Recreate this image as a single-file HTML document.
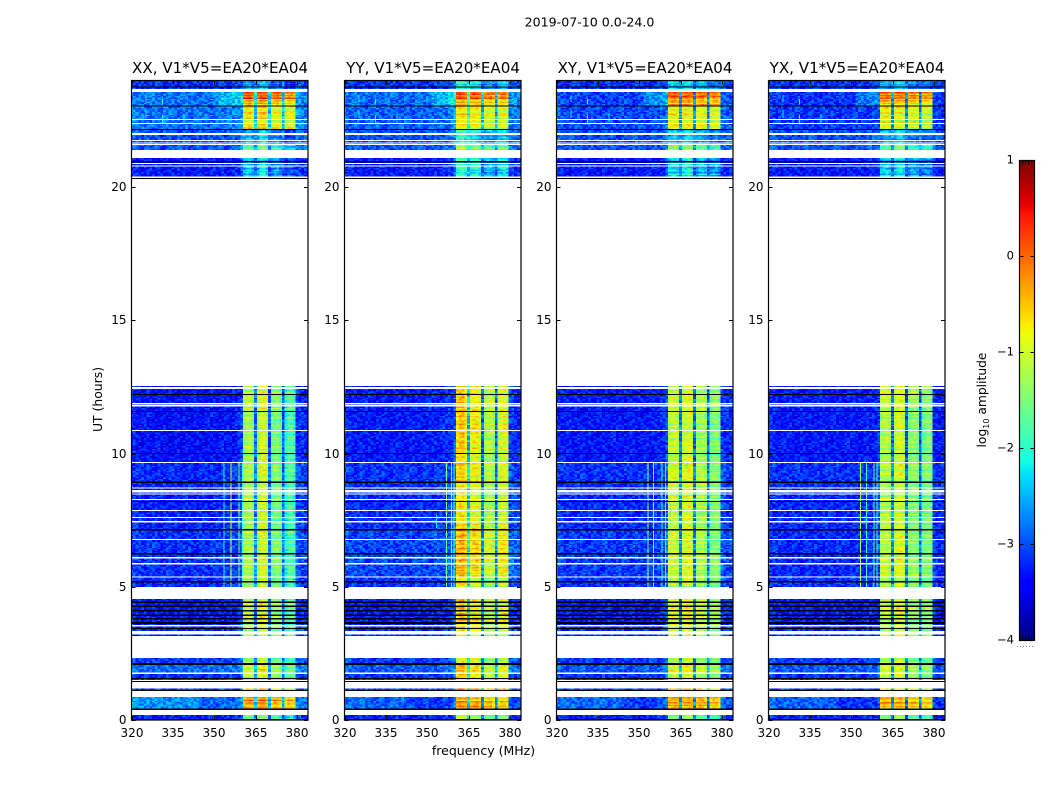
<!DOCTYPE html>
<html lang="en">
<head>
<meta charset="utf-8">
<title>2019-07-10 0.0-24.0</title>
<style>
html,body{margin:0;padding:0;background:#fff;width:1050px;height:800px;overflow:hidden}
svg{display:block}
text{font-family:"DejaVu Sans","Liberation Sans",sans-serif;fill:#000}
</style>
</head>
<body>
<svg id="chart" xmlns="http://www.w3.org/2000/svg" width="1050" height="800" viewBox="0 0 1050 800">
  <text x="589.5" y="26.5" font-size="12.6" text-anchor="middle">2019-07-10 0.0-24.0</text>
  <text x="483.5" y="755" font-size="12.5" text-anchor="middle">frequency (MHz)</text>
  <text x="102" y="399.5" font-size="12.4" text-anchor="middle" transform="rotate(-90 102 399.5)">UT (hours)</text>
  <text x="986" y="400" font-size="12.3" text-anchor="middle" transform="rotate(-90 986 400)">log<tspan font-size="8" dy="3">10</tspan><tspan dy="-3"> amplitude</tspan></text>
  <g id="panels"></g>
  <g id="colorbar"></g>
</svg>
<script>
const panelTitles = ["XX, V1*V5=EA20*EA04","YY, V1*V5=EA20*EA04","XY, V1*V5=EA20*EA04","YX, V1*V5=EA20*EA04"];
const freqTicks = [320,335,350,365,380];
const hourTicks = [0,5,10,15,20];
const colorbarTicks = [1,0,-1,-2,-3,-4];
const channelsMHz = [320,321,322,323,324,325,326,327,328,329,330,331,332,333,334,335,336,337,338,339,340,341,342,343,344,345,346,347,348,349,350,351,352,353,354,355,356,357,358,359,360,361,362,363,364,365,366,367,368,369,370,371,372,373,374,375,376,377,378,379,380,381,382,383,384];
const bandChannelsMHz = [361,362,363,364,366,367,368,369,371,372,373,374,376,377,378,379];

const spectrumXX = [-3.05,-3.1,-3.15,-3.15,-3.2,-3.2,-3.15,-3.2,-3.2,-3.2,-3.2,-3.25,-3.2,-3.2,-3.2,-3.2,-3.2,-3.2,-3.25,-3.2,-3.2,-3.2,-3.25,-3.2,-3.2,-3.2,-3.2,-3.2,-3.2,-3.2,-3.15,-3.2,-3.2,-3.15,-3.2,-3.15,-3.15,-3.15,-3.1,-3.05,-2.9,-1.3,-1.2,-1.15,-1.4,-2.7,-1.3,-0.95,-0.9,-1.1,-2.8,-1.6,-1.45,-1.4,-1.6,-2.8,-2.0,-1.75,-1.7,-1.9,-3.0,-3.0,-3.05,-3.1,-3.1];
const spectrumYY = [-3.05,-3.1,-3.15,-3.15,-3.2,-3.2,-3.15,-3.2,-3.2,-3.2,-3.2,-3.2,-3.2,-3.2,-3.2,-3.2,-3.2,-3.2,-3.2,-3.2,-3.2,-3.2,-3.2,-3.2,-3.2,-3.2,-3.15,-3.2,-3.2,-3.2,-3.15,-3.15,-3.2,-3.15,-3.15,-3.15,-3.1,-3.1,-3.05,-3.0,-2.8,-0.75,-0.6,-0.6,-0.9,-2.3,-1.0,-0.85,-0.85,-1.1,-2.8,-1.4,-1.25,-1.2,-1.4,-2.8,-1.2,-1.0,-1.0,-1.15,-3.0,-3.0,-3.05,-3.1,-3.1];
const spectrumXY = [-3.1,-3.1,-3.15,-3.2,-3.2,-3.2,-3.2,-3.2,-3.2,-3.2,-3.2,-3.25,-3.2,-3.2,-3.2,-3.2,-3.25,-3.2,-3.2,-3.2,-3.2,-3.2,-3.25,-3.2,-3.2,-3.2,-3.2,-3.2,-3.2,-3.2,-3.2,-3.2,-3.2,-3.2,-3.2,-3.2,-3.15,-3.15,-3.1,-3.1,-2.9,-1.15,-1.05,-1.05,-1.2,-2.7,-1.1,-0.95,-0.9,-1.05,-2.8,-1.35,-1.25,-1.2,-1.35,-2.8,-1.6,-1.45,-1.4,-1.6,-3.0,-3.05,-3.1,-3.1,-3.1];
const spectrumYX = [-3.1,-3.1,-3.15,-3.2,-3.2,-3.2,-3.2,-3.2,-3.2,-3.2,-3.2,-3.2,-3.2,-3.2,-3.2,-3.2,-3.2,-3.2,-3.2,-3.2,-3.2,-3.2,-3.2,-3.2,-3.2,-3.2,-3.2,-3.2,-3.2,-3.2,-3.2,-3.2,-3.2,-3.2,-3.2,-3.2,-3.15,-3.15,-3.15,-3.15,-3.0,-1.3,-1.15,-1.15,-1.3,-2.7,-1.15,-1.0,-0.95,-1.15,-2.8,-1.5,-1.4,-1.35,-1.5,-2.8,-1.65,-1.5,-1.45,-1.6,-3.1,-3.2,-3.2,-3.2,-3.2];

/* band spectra during the bright blocks near the top of the panels */
const flareBandXX = [-.1,0,.05,-.1,-.05,.1,.1,-.1,-.25,-.1,-.1,-.3,-.35,-.2,-.2,-.4];
const flareBandYY = [-.05,.05,.05,-.1,-.15,0,0,-.2,-.3,-.2,-.2,-.35,-.35,-.2,-.2,-.4];
const flareBandXY = [-.1,0,0,-.15,-.15,-.05,-.05,-.2,-.2,-.1,-.1,-.25,-.35,-.2,-.2,-.4];
const flareBandYX = [-.15,-.05,-.05,-.2,-.2,-.1,-.1,-.25,-.3,-.2,-.2,-.35,-.4,-.3,-.3,-.45];
/* flare windows: start hour, end hour, offset applied to the flare band spectrum */
const flareBlocks = [[23.06,23.3,-.35],[23.3,23.56,.1],[22.18,23.02,-.75],[.43,.86,-.3]];

/* observed time structure, hours: start, end, kind (d = data, b = black flagged). Gaps are left white. */
const timeSegments = [
[0,.03,'b'],[.03,.19,'d'],[.375,.43,'b'],[.43,.86,'d'],[1.09,1.13,'b'],[1.13,1.19,'d'],[1.44,1.47,'b'],[1.5,1.54,'d'],[1.54,1.57,'b'],[1.57,1.73,'d'],[1.78,2.06,'d'],[2.06,2.14,'b'],[2.14,2.33,'d'],
[3.15,3.2,'d'],[3.34,3.41,'d'],[3.41,3.45,'b'],[3.45,3.5,'d'],[3.56,3.6,'d'],[3.6,3.67,'b'],[3.67,3.77,'d'],[3.77,3.82,'b'],[3.82,3.9,'d'],[3.9,3.96,'b'],[3.96,4.07,'d'],[4.07,4.13,'b'],[4.13,4.24,'d'],[4.24,4.29,'b'],[4.29,4.39,'d'],[4.39,4.44,'b'],[4.44,4.54,'d'],
[5,5.16,'d'],[5.16,5.21,'b'],[5.21,5.34,'d'],[5.38,5.84,'d'],[5.9,6.06,'d'],[6.11,6.22,'d'],[6.22,6.26,'b'],[6.26,6.76,'d'],[6.8,7.12,'d'],[7.12,7.16,'b'],[7.16,7.41,'d'],[7.46,7.58,'d'],[7.62,7.84,'d'],[7.88,8.18,'d'],[8.18,8.22,'b'],[8.22,8.26,'d'],[8.3,8.46,'d'],[8.5,8.54,'d'],[8.63,8.68,'d'],[8.72,8.9,'d'],[8.9,8.95,'b'],[8.95,9.64,'d'],[9.68,9.98,'d'],[9.98,10.02,'b'],[10.02,10.84,'d'],[10.88,11.56,'d'],[11.56,11.6,'b'],[11.6,11.76,'d'],[11.82,11.85,'d'],[11.89,12.19,'d'],[12.19,12.23,'b'],[12.23,12.43,'d'],[12.5,12.54,'d'],
[20.31,20.35,'b'],[20.4,20.77,'d'],[20.81,20.86,'d'],[20.9,20.93,'d'],[20.93,20.97,'b'],[20.97,21.09,'d'],[21.4,21.58,'d'],[21.62,21.64,'d'],[21.67,21.73,'d'],[21.77,21.95,'d'],[22.03,22.14,'d'],[22.14,22.18,'b'],[22.18,22.37,'d'],[22.41,22.52,'d'],[22.56,23.02,'d'],[23.02,23.06,'b'],[23.06,23.56,'d'],[23.68,23.73,'d'],[23.73,23.77,'b'],[23.77,24,'d']
];

/* level changes over time, log10 amplitude: start, end, background delta, band delta */
const sharedLevels = [[0,.2,-.05,-.4],[.4,.9,.2,.35],[1.1,1.2,.1,.5],[1.5,1.75,.05,.1],[1.75,2.1,.25,.2],[2.1,2.35,.1,-.1],[3.1,3.6,-.05,.05],[3.6,4.6,-.1,.2],[5,5.4,.05,-.1],[5.4,7.2,.1,.05],[8.9,9.7,.05,.1],[9.7,11.6,-.1,0],[11.6,12.6,-.1,.1],[20.3,21.15,-.1,-1.15],[21.4,21.6,.25,-.4],[21.6,22.2,.2,-1.3],[22.2,23.06,.28,0],[23.06,23.6,.3,0],[23.65,24,.05,-1.3]];
const levelsXX = [[.4,.9,.1,.0],[1.75,2.1,.1,.1],[5,12.5,-.05,-.05],[22.2,23.06,.1,0],[23.06,23.6,.1,0]];
const levelsYY = [[.4,.9,-.15,0],[5.4,7.2,.05,.25],[10,12.5,0,.1],[23.06,23.6,.05,0]];
const levelsXY = [[.4,.9,-.1,0],[22.2,23.06,-.1,0],[23.06,23.6,-.15,0]];
const levelsYX = [[.4,.9,-.15,0],[5.4,7.2,-.1,.05],[22.2,23.06,-.2,0],[23.06,23.6,-.25,0]];

/* broad background brightening: start hour, end hour, start MHz, end MHz, delta */
const backgroundGlow = [[.43,.86,320,345,.25],[23.06,23.56,352,360.5,.35]];

/* narrow interference lines: frequency, start hour, end hour, log10 amplitude */
const rfiXX = [[353.3,5,9.64,-2.1],[355.9,5,9.64,-1.0],[358.8,5,9.64,-1.5],[360,5,9.64,-1.9]];
const rfiYY = [[353.2,7.2,7.7,-2.2],[356.8,5,9.64,-1.5],[358.6,5,9.64,-1.6],[359.5,5,9.64,-1.7]];
const rfiXY = [[353,5,9.64,-1.3],[355,5,9.64,-1.6],[358,5,9.64,-1.9],[359.4,5,9.64,-1.9]];
const rfiYX = [[353.2,5,9.64,-1.2],[355.4,5,9.64,-1.9],[358,5,9.64,-1.7],[359.2,5,9.64,-1.7]];
const rfiUpper = [[325,22.6,22.9,-2.2],[325,23.2,23.45,-2.2],[331,22.35,22.7,-2.1],[331,23.1,23.3,-2.1],[338.8,22.45,22.75,-2.2]];

/* hand-typed speckle tile and row streaks: approximate texture, not per-pixel readings */
const speckleTile = ["38152947061832749501628","71460392857214093682517","25938170463895127460391","90426713582047361958024","46173859201756498032167","12895640378129564703826","67304291586340918257430","53719048261975302486195","84062537190426817359206","29581763049358274106893","76340192865721049683512","41807256934160582793460","95263018472893716045128","30746985123657490218374","68521470396102835964710","17039648257384926150683","52984316701468193027546"];
const rowStreaks = [.1,-.15,.05,.2,-.05,-.2,.15,0,-.1,.25,-.25,.05,.12,-.08,-.18,.18,.02,-.12,.08,.22,-.22,.03,-.03,.16,-.16,.07,-.07,.11,-.2,.2,-.1,.04,-.14,.14,.09,-.04,-.24];

const spectra = [spectrumXX,spectrumYY,spectrumXY,spectrumYX];
const flareBands = [flareBandXX,flareBandYY,flareBandXY,flareBandYX];
const panelLevels = [levelsXX,levelsYY,levelsXY,levelsYX];
const rfiLines = [rfiXX,rfiYY,rfiXY,rfiYX];

const NS = "http://www.w3.org/2000/svg";
const panelLefts = [131.5,344.5,556.5,768.5];
const panelWidth = 176.5, plotTop = 80.5, plotHeight = 639.5;
const freqMin = 320, freqMax = 384, hourMin = 0, hourMax = 24, vMin = -4, vMax = 1, rowStep = .05;

function xScale(p, f){ return panelLefts[p] + (f - freqMin) / (freqMax - freqMin) * panelWidth; }
function yScale(h){ return plotTop + (hourMax - h) / (hourMax - hourMin) * plotHeight; }
function jet(v){
  const t = Math.max(0, Math.min(1, (v - vMin) / (vMax - vMin)));
  const ramp = (pts) => { for (let i = 1; i < pts.length; i++) { if (t <= pts[i][0]) { const a = pts[i-1], b = pts[i]; return a[1] + (b[1]-a[1]) * (t-a[0]) / (b[0]-a[0]); } } return pts[pts.length-1][1]; };
  const r = ramp([[0,0],[.35,0],[.66,1],[.89,1],[1,.5]]);
  const g = ramp([[0,0],[.125,0],[.375,1],[.64,1],[.91,0],[1,0]]);
  const b = ramp([[0,.5],[.11,1],[.34,1],[.65,0],[1,0]]);
  return "rgb(" + Math.round(r*255) + "," + Math.round(g*255) + "," + Math.round(b*255) + ")";
}
function levelAt(list, h){
  for (const l of list) { if (h >= l[0] && h < l[1]) return l; }
  return [0,0,0,0];
}
function flareAt(h){
  for (const l of flareBlocks) { if (h >= l[0] && h < l[1]) return l; }
  return null;
}
function glowAt(h, f){
  let total = 0;
  backgroundGlow.forEach(function(g){
    if (h >= g[0] && h < g[1] && f >= g[2] && f < g[3]) total += g[4];
  });
  return total;
}
function rect(parent, x, y, w, h, fill){
  const el = document.createElementNS(NS, "rect");
  el.setAttribute("x", x.toFixed(2));
  el.setAttribute("y", y.toFixed(2));
  el.setAttribute("width", w.toFixed(2));
  el.setAttribute("height", h.toFixed(2));
  el.setAttribute("fill", fill);
  parent.appendChild(el);
  return el;
}
function line(parent, x1, y1, x2, y2, color, dash){
  const el = document.createElementNS(NS, "line");
  el.setAttribute("x1", x1); el.setAttribute("y1", y1);
  el.setAttribute("x2", x2); el.setAttribute("y2", y2);
  el.setAttribute("stroke", color); el.setAttribute("stroke-width", "1");
  if (dash) el.setAttribute("stroke-dasharray", dash);
  parent.appendChild(el);
  return el;
}
function label(parent, x, y, str, size, anchor){
  const el = document.createElementNS(NS, "text");
  el.setAttribute("x", x); el.setAttribute("y", y);
  el.setAttribute("font-size", size);
  el.setAttribute("text-anchor", anchor);
  el.textContent = str;
  parent.appendChild(el);
  return el;
}

const panelsRoot = document.getElementById("panels");
spectra.forEach(function(spectrum, p){
  const g = document.createElementNS(NS, "g");
  
  
  panelsRoot.appendChild(g);

  const clipId = "clip" + p;
  const defs = document.createElementNS(NS, "clipPath");
  defs.setAttribute("id", clipId);
  const cr = document.createElementNS(NS, "rect");
  cr.setAttribute("x", panelLefts[p]); cr.setAttribute("y", plotTop);
  cr.setAttribute("width", panelWidth); cr.setAttribute("height", plotHeight);
  defs.appendChild(cr);
  g.appendChild(defs);

  const cells = document.createElementNS(NS, "g");
  cells.setAttribute("clip-path", "url(#" + clipId + ")");
  cells.setAttribute("shape-rendering", "crispEdges");
  
  
  g.appendChild(cells);

  let rowIndex = 0;
  timeSegments.forEach(function(seg){
    const t0 = seg[0], t1 = seg[1];
    if (seg[2] === "b") {
      const el = rect(cells, panelLefts[p], yScale(t1), panelWidth, Math.max(yScale(t0) - yScale(t1), 1), "#000");
      
      
      return;
    }
    const n = Math.max(1, Math.round((t1 - t0) / rowStep));
    const dt = (t1 - t0) / n;
    for (let i = 0; i < n; i++) {
      const h = t0 + i * dt, mid = h + dt / 2;
      const s = levelAt(sharedLevels, mid), q = levelAt(panelLevels[p], mid);
      const flare = flareAt(mid);
      const bgDelta = s[2] + q[2], bandDelta = s[3] + q[3];
      const streak = rowStreaks[(rowIndex + p * 11) % rowStreaks.length];
      const tileRow = speckleTile[(rowIndex + p * 5) % speckleTile.length];
      channelsMHz.forEach(function(f, c){
        const d = +tileRow[(c + p * 7 + rowIndex * 3) % tileRow.length] - 4.5;
        const bandIndex = bandChannelsMHz.indexOf(f);
        let v;
        if (bandIndex >= 0 && flare) {
          v = flareBands[p][bandIndex] + flare[2] + streak * 1.6 + d * .04;
        } else if (bandIndex >= 0) {
          v = spectrum[c] + bandDelta + streak * 1.2 + d * .05;
        } else {
          v = spectrum[c] + bgDelta + glowAt(mid, f) + d * .075;
        }
        const x0 = xScale(p, f - .5), x1 = xScale(p, f + .5);
        const el = rect(cells, x0, yScale(h + dt), x1 - x0, yScale(h) - yScale(h + dt), jet(v));
        
        
      });
      rowIndex++;
    }
  });

  rfiLines[p].concat(rfiUpper).forEach(function(r){
    timeSegments.forEach(function(seg){
      if (seg[2] !== "d" || seg[1] <= r[1] || seg[0] >= r[2]) return;
      const a = Math.max(seg[0], r[1]), b = Math.min(seg[1], r[2]);
      const el = rect(cells, xScale(p, r[0]), yScale(b), 1, yScale(a) - yScale(b), jet(r[3]));
      
      
    });
  });

  const frame = document.createElementNS(NS, "rect");
  frame.setAttribute("x", panelLefts[p]); frame.setAttribute("y", plotTop);
  frame.setAttribute("width", panelWidth); frame.setAttribute("height", plotHeight);
  frame.setAttribute("fill", "none"); frame.setAttribute("stroke", "#000"); frame.setAttribute("stroke-width", "1.2");
  
  
  g.appendChild(frame);

  const title = label(g, panelLefts[p] + panelWidth / 2 + .3, 73, panelTitles[p], 15.1, "middle");
  
  

  freqTicks.forEach(function(f){
    const x = Math.round(xScale(p, f)) + .5;
    const t1 = line(g, x, plotTop + plotHeight, x, plotTop + plotHeight - 4, "#000");
    
    
    const t2 = line(g, x, plotTop, x, plotTop + 4, "#000");
    
    
    const tl = label(g, x - .5, 737, String(f), 12, "middle");
    
    
  });
  hourTicks.forEach(function(h){
    const y = Math.round(yScale(h)) + .5;
    const t1 = line(g, panelLefts[p], y, panelLefts[p] + 4, y, "#000");
    
    
    const t2 = line(g, panelLefts[p] + panelWidth, y, panelLefts[p] + panelWidth - 4, y, "#000");
    
    
    const tl = label(g, panelLefts[p] - 5, y + 3.5, String(h), 12, "end");
    
    
  });
});

const cbRoot = document.getElementById("colorbar");
const cbX = 1019.5, cbW = 15, cbTop = 160.5, cbH = 480;
function cbScale(v){ return cbTop + (vMax - v) / (vMax - vMin) * cbH; }
const cbCells = document.createElementNS(NS, "g");
cbCells.setAttribute("shape-rendering", "crispEdges");
cbRoot.appendChild(cbCells);
for (let i = 0; i < 256; i++) {
  const v = vMin + (vMax - vMin) * i / 256;
  const next = vMin + (vMax - vMin) * (i + 1) / 256;
  const el = rect(cbCells, cbX, cbScale(next), cbW, cbScale(v) - cbScale(next) + .5, jet(v + .01));
  
  
}
const cbFrame = document.createElementNS(NS, "rect");
cbFrame.setAttribute("x", cbX); cbFrame.setAttribute("y", cbTop);
cbFrame.setAttribute("width", cbW); cbFrame.setAttribute("height", cbH);
cbFrame.setAttribute("fill", "none"); cbFrame.setAttribute("stroke", "#000"); cbFrame.setAttribute("stroke-width", "1.2");


cbRoot.appendChild(cbFrame);
colorbarTicks.forEach(function(v){
  const y = Math.round(cbScale(v) - .5) + .5;
  if (v < vMax && v > vMin) {
    const a = line(cbRoot, cbX, y, cbX + 4, y, "#000");
    
    
    const b = line(cbRoot, cbX + cbW, y, cbX + cbW - 4, y, "#000");
    
    
  }
  const str = v < 0 ? "\u2212" + Math.abs(v) : String(v);
  const tl = label(cbRoot, 1014, y + 3, str, 11.5, "end");
  
  
});
[3,6,9,12].forEach(function(dx){
  const a = line(cbRoot, cbX + dx, cbTop, cbX + dx, cbTop + 4, "#000");
  
  
  const b = line(cbRoot, cbX + dx, cbTop + cbH, cbX + dx, cbTop + cbH - 4, "#000");
  
  
});
const dots = line(cbRoot, 1017, 646.5, 1035, 646.5, "#888", "1 2");


</script>
</body>
</html>
